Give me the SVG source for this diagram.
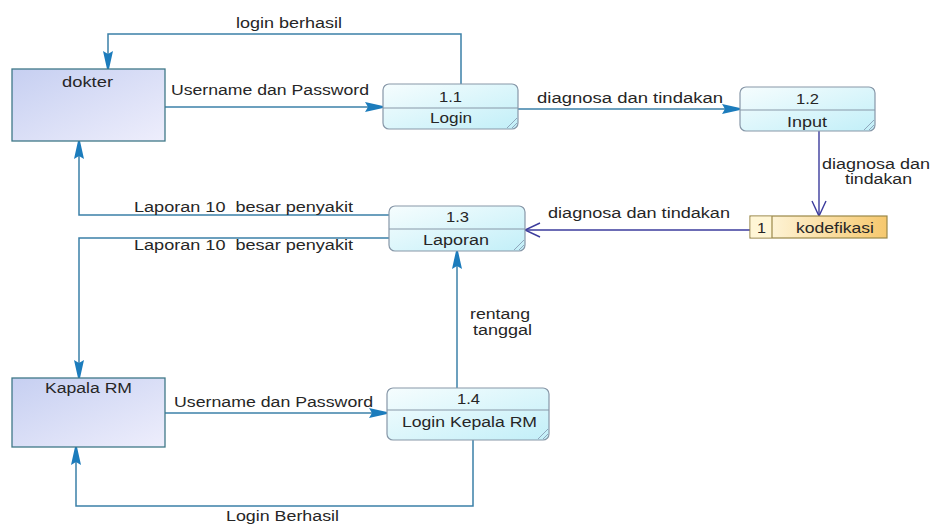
<svg xmlns="http://www.w3.org/2000/svg" width="932" height="524" viewBox="0 0 932 524">
<defs>
<linearGradient id="gEnt" x1="0" y1="0" x2="1" y2="1">
<stop offset="0" stop-color="#c6cff1"/>
<stop offset="1" stop-color="#eeeefc"/>
</linearGradient>
<linearGradient id="gProc" x1="0" y1="0" x2="1" y2="1">
<stop offset="0" stop-color="#f6fdfe"/>
<stop offset="1" stop-color="#c2eff8"/>
</linearGradient>
<linearGradient id="gStore" x1="0" y1="0" x2="1" y2="0">
<stop offset="0" stop-color="#fffbe8"/>
<stop offset="1" stop-color="#f6c86e"/>
</linearGradient>
<marker id="arr" markerUnits="userSpaceOnUse" markerWidth="20" markerHeight="12" viewBox="0 -6 20 12" refX="18" refY="0" orient="auto">
<path d="M0,-5 L18,-1 L18,1 L0,5 L3,0 Z" fill="#1c7cbc"/>
</marker>
<marker id="open" markerUnits="userSpaceOnUse" markerWidth="18" markerHeight="18" viewBox="-16 -9 18 18" refX="0" refY="0" orient="auto">
<path d="M-15,-7 L0,0 L-15,7" fill="none" stroke="#3b3b9c" stroke-width="1.4"/>
</marker>
</defs>
<style>
text{font-family:"Liberation Sans",Arial,sans-serif;font-size:14px;fill:#262626;white-space:pre}
.ent{fill:url(#gEnt);stroke:#3f7888;stroke-width:1.3}
.proc{fill:url(#gProc);stroke:#8797a8;stroke-width:1.2}
.div{stroke:#8797a8;stroke-width:1.1}
.fold{stroke:#8fa6bc;stroke-width:1;fill:none}
.c{fill:none;stroke:#3b80a8;stroke-width:1.5}
.cs{fill:none;stroke:#3b3b9c;stroke-width:1.4}
.store{fill:url(#gStore);stroke:#9a8848;stroke-width:1.2}
</style>
<rect width="932" height="524" fill="#ffffff"/>

<g id="connectors">
<path class="c" d="M461,84 V34 H108 V69" marker-end="url(#arr)"/>
<path class="c" d="M165,107 H383" marker-end="url(#arr)"/>
<path class="c" d="M518,109 H740" marker-end="url(#arr)"/>
<path class="cs" d="M819,131 V216" marker-end="url(#open)"/>
<path class="cs" d="M750,230 H525" marker-end="url(#open)"/>
<path class="c" d="M389,215 H79 V141" marker-end="url(#arr)"/>
<path class="c" d="M389,238 H79 V378" marker-end="url(#arr)"/>
<path class="c" d="M457,388 V251" marker-end="url(#arr)"/>
<path class="c" d="M165,413 H387" marker-end="url(#arr)"/>
<path class="c" d="M473,440 V506 H76 V447" marker-end="url(#arr)"/>
<text x="236" y="28" textLength="106" lengthAdjust="spacingAndGlyphs">login berhasil</text>
<text x="171" y="95" textLength="198" lengthAdjust="spacingAndGlyphs">Username dan Password</text>
<text x="537" y="103" textLength="186" lengthAdjust="spacingAndGlyphs">diagnosa dan tindakan</text>
<text x="822" y="169" textLength="108" lengthAdjust="spacingAndGlyphs">diagnosa dan</text>
<text x="845" y="184" textLength="67" lengthAdjust="spacingAndGlyphs">tindakan</text>
<text x="548" y="218" textLength="182" lengthAdjust="spacingAndGlyphs">diagnosa dan tindakan</text>
<text x="134" y="212" textLength="219" lengthAdjust="spacingAndGlyphs">Laporan 10  besar penyakit</text>
<text x="134" y="250" textLength="219" lengthAdjust="spacingAndGlyphs">Laporan 10  besar penyakit</text>
<text x="470" y="319" textLength="60" lengthAdjust="spacingAndGlyphs">rentang</text>
<text x="473" y="335" textLength="59" lengthAdjust="spacingAndGlyphs">tanggal</text>
<text x="174" y="407" textLength="199" lengthAdjust="spacingAndGlyphs">Username dan Password</text>
<text x="226" y="521" textLength="113" lengthAdjust="spacingAndGlyphs">Login Berhasil</text>
</g>

<g id="dokter">
<rect class="ent" x="12" y="69" width="153" height="72"/>
<text x="62" y="87" textLength="51" lengthAdjust="spacingAndGlyphs">dokter</text>
</g>

<g id="kapala-rm">
<rect class="ent" x="12" y="378" width="153" height="69"/>
<text x="45" y="393" textLength="87" lengthAdjust="spacingAndGlyphs">Kapala RM</text>
</g>

<g id="p1-1">
<rect class="proc" x="383" y="84" width="135" height="45" rx="6"/>
<line class="div" x1="383" y1="108" x2="518" y2="108"/>
<path class="fold" d="M507,128 L517,118 M512,128 L517,123"/>
<text x="439" y="102" textLength="23" lengthAdjust="spacingAndGlyphs">1.1</text>
<text x="430" y="123" textLength="42" lengthAdjust="spacingAndGlyphs">Login</text>
</g>

<g id="p1-2">
<rect class="proc" x="740" y="87" width="135" height="44" rx="6"/>
<line class="div" x1="740" y1="110" x2="875" y2="110"/>
<path class="fold" d="M864,130 L874,120 M869,130 L874,125"/>
<text x="796" y="104" textLength="23" lengthAdjust="spacingAndGlyphs">1.2</text>
<text x="787" y="127" textLength="40" lengthAdjust="spacingAndGlyphs">Input</text>
</g>

<g id="p1-3">
<rect class="proc" x="389" y="206" width="136" height="45" rx="6"/>
<line class="div" x1="389" y1="229" x2="525" y2="229"/>
<path class="fold" d="M514,250 L524,240 M519,250 L524,245"/>
<text x="446" y="222" textLength="23" lengthAdjust="spacingAndGlyphs">1.3</text>
<text x="423" y="245" textLength="66" lengthAdjust="spacingAndGlyphs">Laporan</text>
</g>

<g id="p1-4">
<rect class="proc" x="387" y="388" width="162" height="52" rx="6"/>
<line class="div" x1="387" y1="410" x2="549" y2="410"/>
<path class="fold" d="M538,439 L548,429 M543,439 L548,434"/>
<text x="457" y="404" textLength="23" lengthAdjust="spacingAndGlyphs">1.4</text>
<text x="402" y="427" textLength="135" lengthAdjust="spacingAndGlyphs">Login Kepala RM</text>
</g>

<g id="kodefikasi">
<rect class="store" x="750" y="216" width="137" height="22"/>
<rect x="750.6" y="216.6" width="21.4" height="20.8" fill="#fff6d6"/>
<line x1="772" y1="216" x2="772" y2="238" stroke="#9a8848" stroke-width="1.2"/>
<text x="757" y="233" textLength="9" lengthAdjust="spacingAndGlyphs">1</text>
<text x="796" y="233" textLength="78" lengthAdjust="spacingAndGlyphs">kodefikasi</text>
</g>
</svg>
